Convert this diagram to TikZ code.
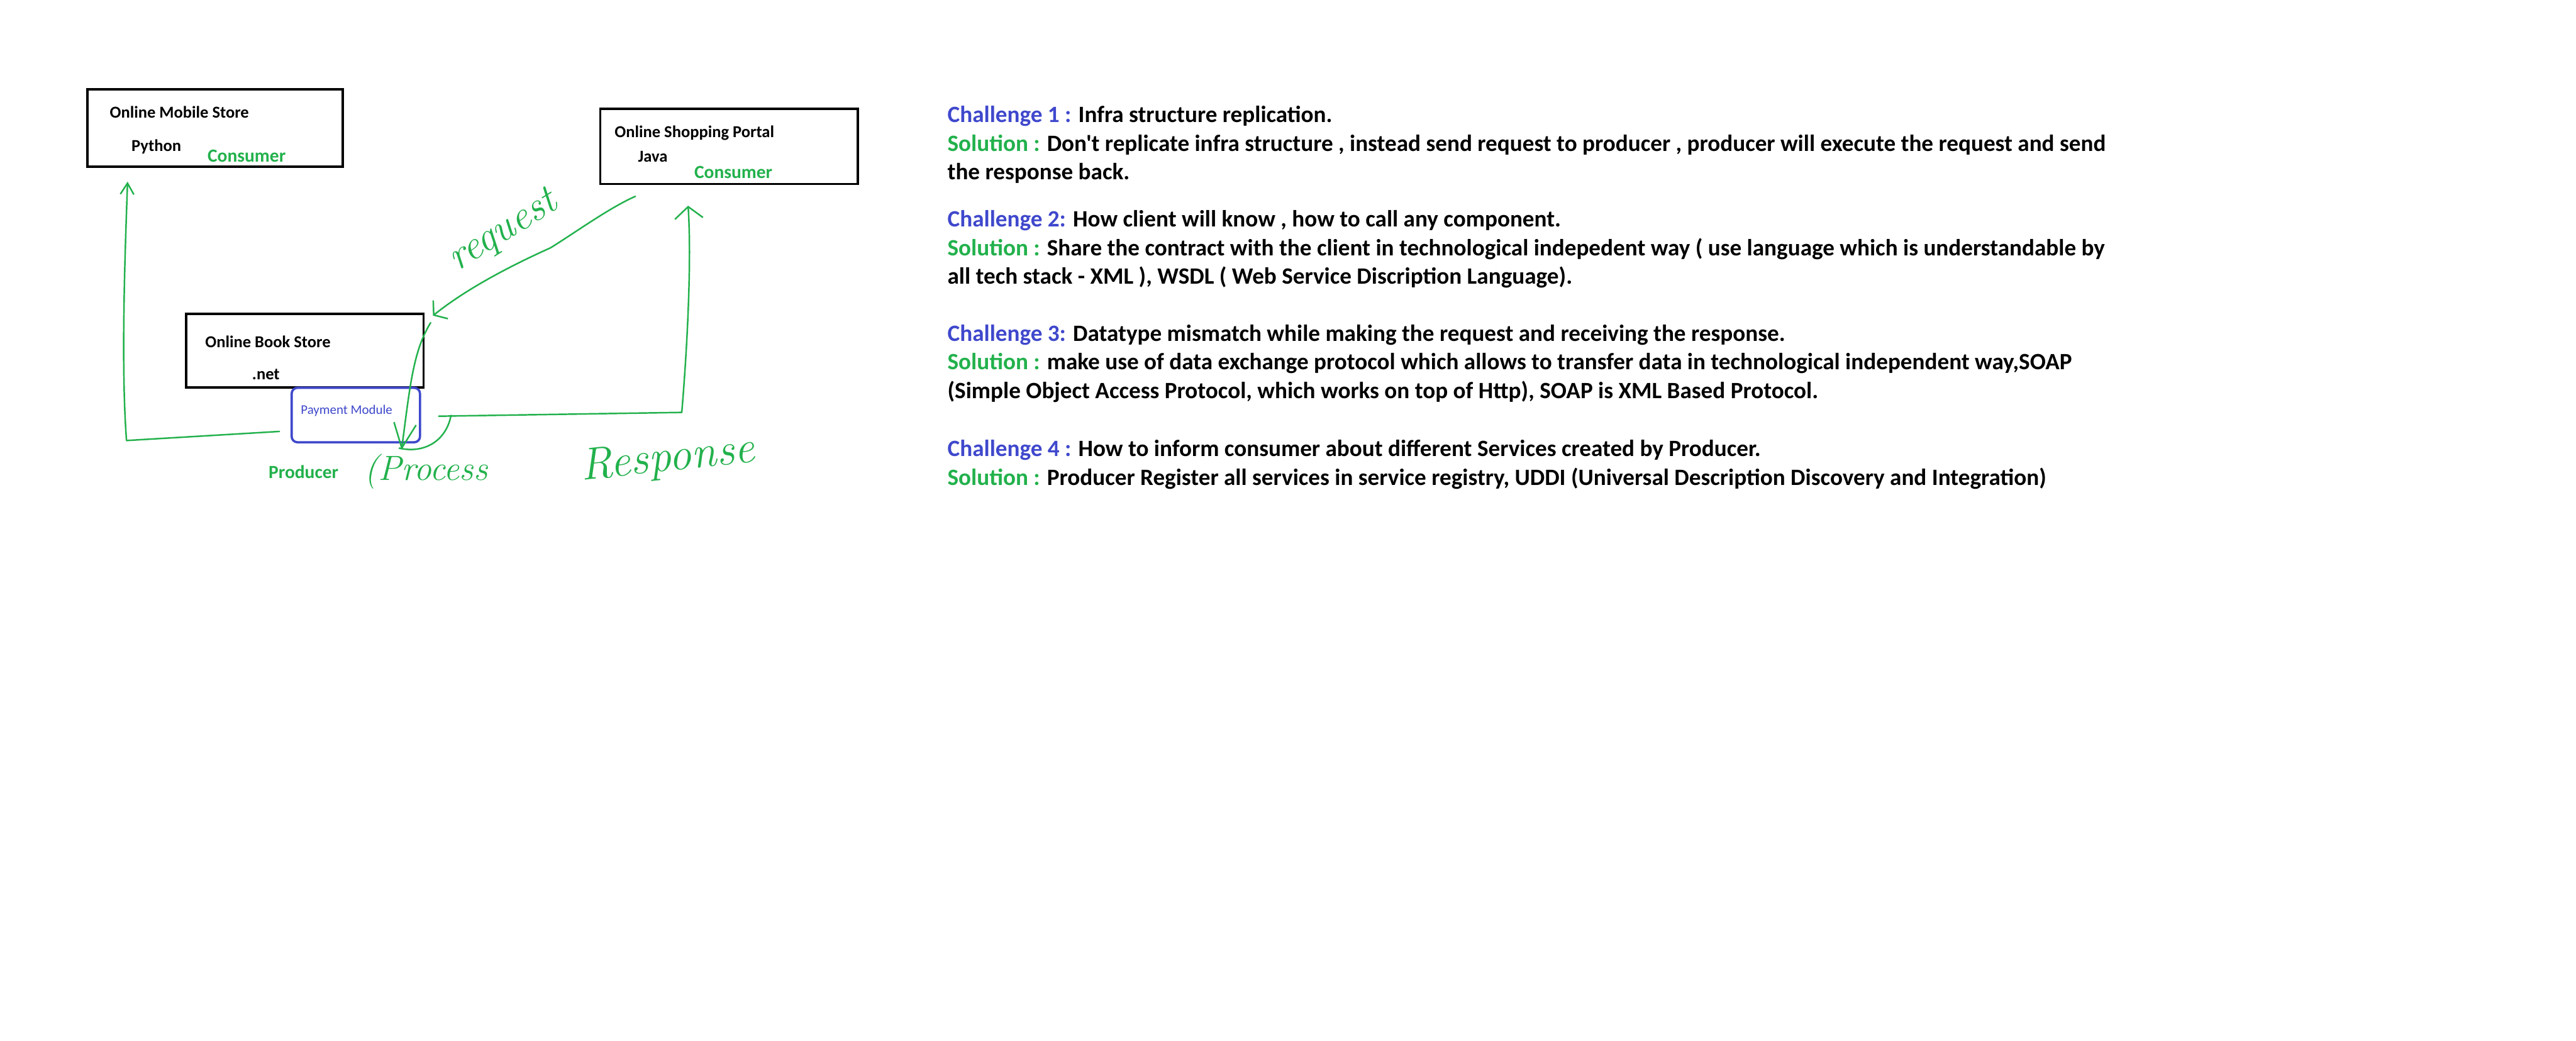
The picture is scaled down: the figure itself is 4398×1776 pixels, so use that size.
\documentclass[tikz,border=0pt]{standalone}
\usepackage{fontspec}
\newfontfamily\calibri{Carlito}
\usepackage{tikz}
\usetikzlibrary{positioning, calc, arrows.meta}
\usepackage{xcolor}
\definecolor{paintgreen}{RGB}{34,177,76}
\definecolor{paintblue}{RGB}{63,72,204}
\newcommand\chlabel[1]{\textcolor{paintblue}{#1}}
\newcommand\sollabel[1]{\textcolor{paintgreen}{#1}}

\begin{document}
\begin{tikzpicture}[x=0.01cm, y=-0.01cm,
    store/.style={draw, line width=1.2pt, inner sep=0pt},
    lbl/.style={anchor=base west, inner sep=0pt, font=\calibri\bfseries\fontsize{8.1}{9.7}\selectfont},
    role/.style={anchor=base west, inner sep=0pt, text=paintgreen, font=\calibri\bfseries\fontsize{9}{10.8}\selectfont},
    hand/.style={draw=paintgreen, line width=0.75pt, line cap=round, line join=round},
    scrawl/.style={text=paintgreen, inner sep=0pt},
    note/.style={anchor=base west, inner sep=0pt, font=\calibri\bfseries\fontsize{11.35}{13.6}\selectfont}]

    \fill[white] (0,0) rectangle (4398,1776);
    \useasboundingbox (0,0) rectangle (4398,1776);

    % Consumers
    \node[store, minimum width=4.36cm, minimum height=1.32cm] (mobile) at (367,219) {};
    \node[lbl] (mobname) at ($(mobile.north west)+(40,50)$) {Online Mobile Store};
    \node[lbl] (mobtech) at ($(mobile.north west)+(77,107)$) {Python};
    \node[role] (mobrole) at ($(mobile.north west)+(207,126)$) {Consumer};

    \node[store, minimum width=4.39cm, minimum height=1.28cm] (portal) at (1244.5,250) {};
    \node[lbl] (porname) at ($(portal.north west)+(26,51)$) {Online Shopping Portal};
    \node[lbl] (portech) at ($(portal.north west)+(66,93)$) {Java};
    \node[role] (porrole) at ($(portal.north west)+(162,121)$) {Consumer};

    % Producer
    \node[store, minimum width=4.05cm, minimum height=1.25cm] (book) at (520.5,598.5) {};
    \node[lbl] (bookname) at ($(book.north west)+(34,59)$) {Online Book Store};
    \node[lbl] (booktech) at ($(book.north west)+(114,114)$) {.net};

    \node[draw=paintblue, line width=1.1pt, rounded corners=0.1cm, minimum width=2.19cm, minimum height=0.93cm, inner sep=0pt] (pay) at (607.5,708.5) {};
    \node[anchor=base west, inner sep=0pt, text=paintblue, font=\calibri\fontsize{6.4}{7.7}\selectfont] (payname) at ($(pay.north west)+(17,47)$) {Payment Module};
    \node[role] (prod) at ($(pay.south west)+(-38,60)$) {Producer};

    % hand drawn flow
    \coordinate (mobtip) at ($(mobile.south west)+(71,23)$);
    \coordinate (portip) at ($(portal.south west)+(152,35)$);
    \coordinate (reqstart) at ($(portal.south west)+(62,19)$);
    \coordinate (reqtip) at ($(book.north east)+(14,5)$);
    \coordinate (proctip) at ($(pay.south)+(78,11)$);
    \coordinate (resstart) at ($(pay.east)+(30,2)$);

    \draw[hand, -{Straight Barb[length=0.15cm, width=0.4cm]}] (reqstart) .. controls (1040,355) and (985,395) .. (940,423) .. controls (880,450) and (800,490) .. (reqtip);
    \draw[hand, -{Straight Barb[length=0.42cm, width=0.38cm]}] ($(reqtip)+(-4,12)$) .. controls (705,600) and (700,660) .. (proctip);
    \draw[hand] ($(proctip)+(-4,-3)$) .. controls (725,775) and (762,752) .. (770,709);
    \draw[hand, -{Straight Barb[length=0.2cm, width=0.48cm]}] (resstart) -- (1164,704) .. controls (1176,560) and (1180,430) .. (portip);
    \draw[hand, -{Straight Barb[length=0.19cm, width=0.23cm]}] ($(pay.west)+(-19,28)$) -- (216,752) .. controls (206,620) and (214,420) .. (mobtip);

    \node[scrawl, rotate=32, font=\itshape\fontsize{20}{24}\selectfont] (reqtxt) at (860,396) {request};
    \node[scrawl, anchor=west, font=\itshape\fontsize{17}{20}\selectfont] (proctxt) at (621,805) {(Process};
    \node[scrawl, rotate=6, font=\itshape\fontsize{22}{26}\selectfont] (restxt) at (1140,785) {Response};

    % Challenges and solutions
    \node[note] (c1) at (1617,209) {\chlabel{Challenge 1 :} Infra structure replication.};
    \node[note] (s1) at (1617,258) {\sollabel{Solution :} Don't replicate infra structure , instead send request to producer , producer will execute the request and send};
    \node[note] (s1b) at (1617,307) {the response back.};

    \node[note] (c2) at (1617,387) {\chlabel{Challenge 2:} How client will know , how to call any component.};
    \node[note] (s2) at (1617,436) {\sollabel{Solution :} Share the contract with the client in technological indepedent way ( use language which is understandable by};
    \node[note] (s2b) at (1617,485) {all tech stack - XML ), WSDL ( Web Service Discription Language).};

    \node[note] (c3) at (1617,582) {\chlabel{Challenge 3:} Datatype mismatch while making the request and receiving the response.};
    \node[note] (s3) at (1617,631) {\sollabel{Solution :} make use of data exchange protocol which allows to transfer data in technological independent way,SOAP};
    \node[note] (s3b) at (1617,680) {(Simple Object Access Protocol, which works on top of Http), SOAP is XML Based Protocol.};

    \node[note] (c4) at (1617,779) {\chlabel{Challenge 4 :} How to inform consumer about different Services created by Producer.};
    \node[note] (s4) at (1617,828) {\sollabel{Solution :} Producer Register all services in service registry, UDDI (Universal Description Discovery and Integration)};
\end{tikzpicture}
\end{document}
